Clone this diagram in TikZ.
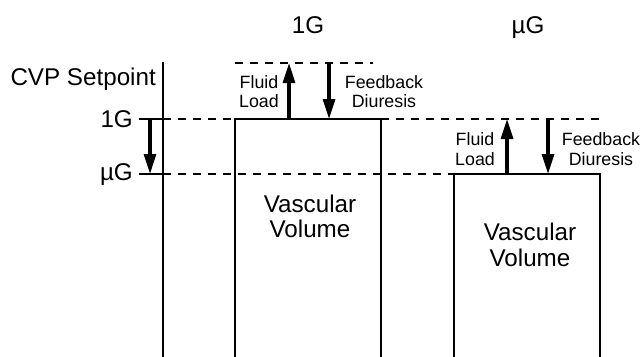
\documentclass[tikz,border=0pt]{standalone}
\usepackage{fontspec}
\setmainfont{Liberation Sans}
\usetikzlibrary{arrows.meta}
\begin{document}
\begin{tikzpicture}[x=1pt,y=-1pt,
  solidline/.style={line width=2pt},
  dashline/.style={line width=1.8pt, dash pattern=on 8pt off 7pt},
  flow/.style={line width=3.2pt, -{Triangle[length=20pt,width=12pt]}},
  bigtext/.style={font=\fontsize{24.2}{26}\selectfont, inner sep=0pt},
  smalltext/.style={font=\fontsize{17.8}{19}\selectfont, inner sep=0pt}
]
\useasboundingbox (0,0) rectangle (642,356);

% coordinates
\coordinate (axT) at (163,62);
\coordinate (axB) at (163,357);
\coordinate (t1a) at (139,119);
\coordinate (t1b) at (163,119);
\coordinate (t2a) at (139,174);
\coordinate (t2b) at (163,174);
\coordinate (sa1) at (150,119);
\coordinate (sa2) at (150,174);

% left box
\coordinate (LBl) at (235,357);
\coordinate (LTl) at (235,119);
\coordinate (LTr) at (381,119);
\coordinate (LBr) at (381,357);
% right box
\coordinate (RBl) at (454,357);
\coordinate (RTl) at (454,174);
\coordinate (RTr) at (600,174);
\coordinate (RBr) at (600,357);

% dashed ends
\coordinate (d0a) at (235,63);
\coordinate (d0b) at (373,63);
\coordinate (d1e) at (603,119);

% arrows
\coordinate (fl1b) at (289,119);
\coordinate (fl1t) at (289,63);
\coordinate (fd1t) at (329,63);
\coordinate (fd1b) at (329,119);
\coordinate (fl2b) at (507,174);
\coordinate (fl2t) at (507,119);
\coordinate (fd2t) at (548,119);
\coordinate (fd2b) at (548,174);

% axis and ticks
\draw[solidline] (axT) -- (axB);
\draw[solidline] (t1a) -- (t1b);
\draw[solidline] (t2a) -- (t2b);
\draw[flow] (sa1) -- (sa2);

% dashed levels
\draw[dashline] (t1b) -- (LTl);
\draw[dashline] (LTr) -- (d1e);
\draw[dashline] (t2b) -- (RTl);
\draw[dashline] (d0a) -- (d0b);

% boxes
\draw[solidline, line join=miter] (LBl) -- (LTl) -- (LTr) -- (LBr);
\draw[solidline, line join=miter] (RBl) -- (RTl) -- (RTr) -- (RBr);

% flow arrows
\draw[flow] (fl1b) -- (fl1t);
\draw[flow] (fd1t) -- (fd1b);
\draw[flow] (fl2b) -- (fl2t);
\draw[flow] (fd2t) -- (fd2b);

% texts
\node[bigtext, anchor=base east] (cvp) at (156,85) {CVP Setpoint};
\node[bigtext, anchor=base east] (l1g) at (133,127) {1G};
\node[bigtext, anchor=base east] (lug) at (133,180) {µG};
\node[bigtext, anchor=base] (h1g) at (308,33) {1G};
\node[bigtext, anchor=base] (hug) at (528,33) {µG};

\node[bigtext, anchor=base] (v1a) at (310,212) {Vascular};
\node[bigtext, anchor=base] (v1b) at (310,237) {Volume};
\node[bigtext, anchor=base] (v2a) at (530,240) {Vascular};
\node[bigtext, anchor=base] (v2b) at (530,266) {Volume};

\node[smalltext, anchor=base] (f1a) at (259,88) {Fluid};
\node[smalltext, anchor=base] (f1b) at (259,107) {Load};
\node[smalltext, anchor=base] (g1a) at (384,88) {Feedback};
\node[smalltext, anchor=base] (g1b) at (384,107) {Diuresis};
\node[smalltext, anchor=base] (f2a) at (475,145) {Fluid};
\node[smalltext, anchor=base] (f2b) at (475,165) {Load};
\node[smalltext, anchor=base] (g2a) at (601,145) {Feedback};
\node[smalltext, anchor=base] (g2b) at (601,165) {Diuresis};
\end{tikzpicture}
\end{document}
